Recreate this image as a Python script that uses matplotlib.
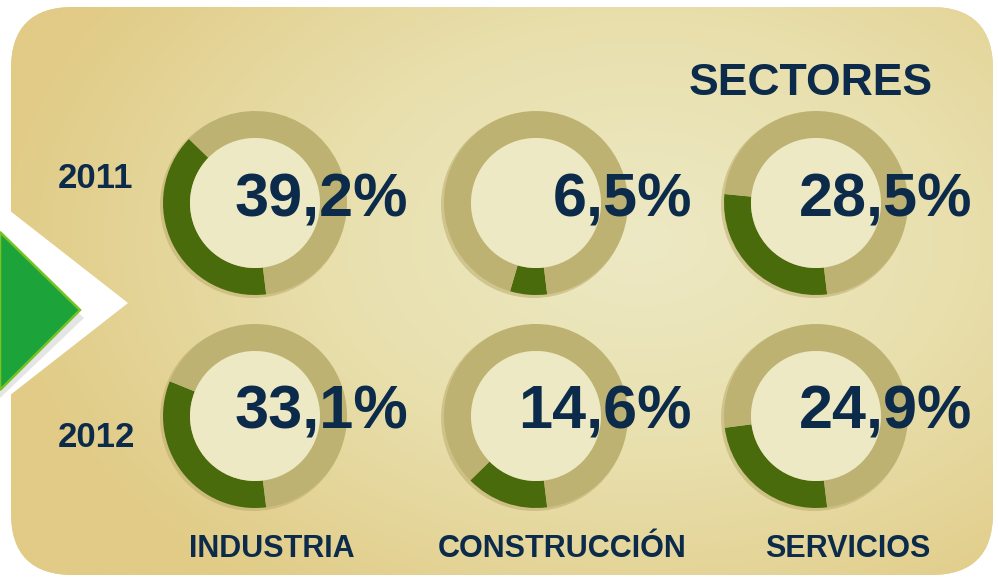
import matplotlib
matplotlib.use('Agg')
import matplotlib.pyplot as plt
import numpy as np
from matplotlib.patches import FancyBboxPatch, Polygon, Circle
from matplotlib.colors import LinearSegmentedColormap

plt.rcParams['font.family'] = ['Liberation Sans', 'DejaVu Sans']

# data
years = ['2011', '2012']
sectors = ['INDUSTRIA', 'CONSTRUCCIÓN', 'SERVICIOS']
values_2011 = [39.2, 6.5, 28.5]
values_2012 = [33.1, 14.6, 24.9]
title = 'SECTORES'

W, H = 998, 578
navy = '#0c2b4b'
dark_green = '#4a6b0c'
track = '#bdb271'
inner = '#ece9c4'

fig = plt.figure(figsize=(W / 100, H / 100), dpi=100)
ax = fig.add_axes([0, 0, 1, 1])


def fy(y):
    # picture rows count from the top
    return H - y


# rounded panel with soft radial gradient
panel = FancyBboxPatch((11, fy(575)), 982, 568, boxstyle='round,pad=0,rounding_size=62',
                       facecolor='#e5d496', edgecolor='none', zorder=0)
ax.add_patch(panel)
gx, gy = np.meshgrid(np.linspace(0, W, 400), np.linspace(0, H, 240))
d = np.sqrt(((gx - 640) / 620) ** 2 + ((gy - fy(240)) / 420) ** 2)
cmap = LinearSegmentedColormap.from_list('bg', ['#ede9c4', '#e8dfac', '#e1cb86'])
img = ax.imshow(d, extent=(0, W, 0, H), origin='lower', cmap=cmap, vmin=0, vmax=1.05,
                zorder=1, interpolation='bilinear')
img.set_clip_path(panel)

# arrow on the left edge
ax.add_patch(Polygon([(0, fy(203)), (128, fy(303)), (0, fy(403))], closed=True,
                     facecolor='white', edgecolor='none', zorder=2))
ax.add_patch(Polygon([(0, fy(238)), (84, fy(318)), (0, fy(398))], closed=True,
                     facecolor='#9a9a9a', edgecolor='none', alpha=0.25, zorder=2))
ax.add_patch(Polygon([(0, fy(232)), (80, fy(310)), (0, fy(390))], closed=True,
                     facecolor='#1ca43a', edgecolor='#76c323', linewidth=1.8, zorder=3))

# donuts
col_x = [255, 536, 816]
row_y = [203, 416]
text_right = [408, 692, 972]
base_y = [217, 428]
R, ring = 92, 27

for r, vals in enumerate([values_2011, values_2012]):
    cy = fy(row_y[r])
    for c, v in enumerate(vals):
        cx = col_x[c]
        ax.add_patch(Circle((cx - 2, cy - 2), R + 1, facecolor='#b8a868', alpha=0.5,
                            edgecolor='none', zorder=3))
        ax.pie([v, 100 - v], center=(cx, cy), radius=R, startangle=277, counterclock=False,
               colors=[dark_green, track], wedgeprops=dict(width=ring, linewidth=0, zorder=4))
        ax.add_patch(Circle((cx, cy), R - ring, facecolor=inner, edgecolor='none', zorder=5))
        ax.text(text_right[c], fy(base_y[r]), f'{v:.1f}%'.replace('.', ','), ha='right',
                va='baseline', fontsize=44, fontweight='bold', color=navy, zorder=6)

# year labels
year_x = [96, 96]
year_base = [188, 447]
for i, yr in enumerate(years):
    ax.text(year_x[i], fy(year_base[i]), yr, ha='center', va='baseline', fontsize=25,
            fontweight='bold', color=navy, zorder=6)

# sector labels
label_x = [272, 562, 848]
for i, s in enumerate(sectors):
    ax.text(label_x[i], fy(557), s, ha='center', va='baseline', fontsize=22,
            fontweight='bold', color=navy, zorder=6)

ax.text(933, fy(95), title, ha='right', va='baseline', fontsize=32, fontweight='bold',
        color=navy, zorder=6)

ax.set_xlim(0, W)
ax.set_ylim(0, H)
ax.set_aspect('equal')
ax.set_axis_off()
fig.savefig('out.png', dpi=100, facecolor='white')
